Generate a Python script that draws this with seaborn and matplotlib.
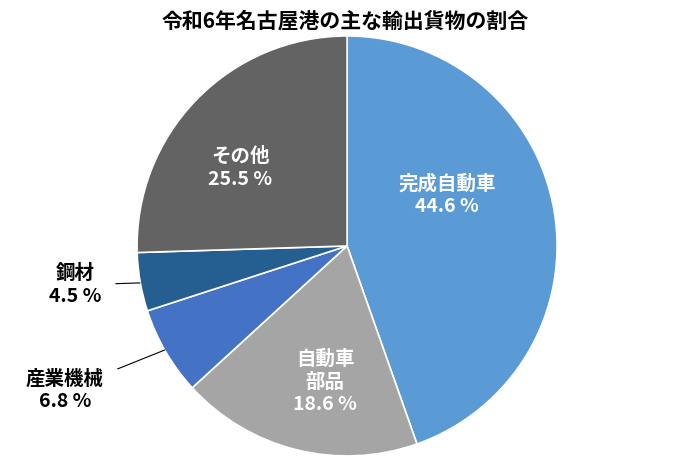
import matplotlib
matplotlib.use("Agg")
import matplotlib.pyplot as plt
import seaborn as sns

sns.set_theme(style="white", font="Noto Sans CJK JP")

labels = ["完成自動車", "自動車\n部品", "産業機械", "鋼材", "その他"]
values = [44.6, 18.6, 6.8, 4.5, 25.5]
colors = ["#5B9BD5", "#A5A5A5", "#4472C4", "#255E91", "#636363"]

fig = plt.figure(figsize=(6.9, 4.58), dpi=100)
ax = fig.add_axes([0.503 - 0.3045, 0.463 - 0.4585, 0.609, 0.917])
ax.pie(values, colors=colors, startangle=90, counterclock=False,
       wedgeprops=dict(edgecolor="white", linewidth=1.2))
ax.set_xlim(-1, 1); ax.set_ylim(-1, 1); ax.set_aspect("equal")
ax.set_clip_on(False)

fs = 14
inside = {0: (0.476, 0.243), 1: (-0.105, -0.648), 4: (-0.51, 0.371)}
for i, (x, y) in inside.items():
    ax.text(x, y, f"{labels[i]}\n{values[i]} %", ha="center", va="center",
            color="white", fontsize=fs, fontweight="bold", linespacing=1.25)

outside = {3: ((-1.295, -0.186), (-0.986, -0.176)),
           2: ((-1.343, -0.686), (-0.867, -0.495))}
for i, (txt, tip) in outside.items():
    ax.annotate(f"{labels[i]}\n{values[i]} %", xy=tip, xytext=txt,
                ha="center", va="center", fontsize=fs, fontweight="bold",
                color="black", linespacing=1.25, annotation_clip=False,
                arrowprops=dict(arrowstyle="-", color="black", lw=0.8,
                                shrinkA=8, shrinkB=0))

fig.text(0.5, 0.955, "令和6年名古屋港の主な輸出貨物の割合", ha="center",
         va="center", fontsize=15, fontweight="bold", color="black")
fig.savefig("out.png", dpi=100)
